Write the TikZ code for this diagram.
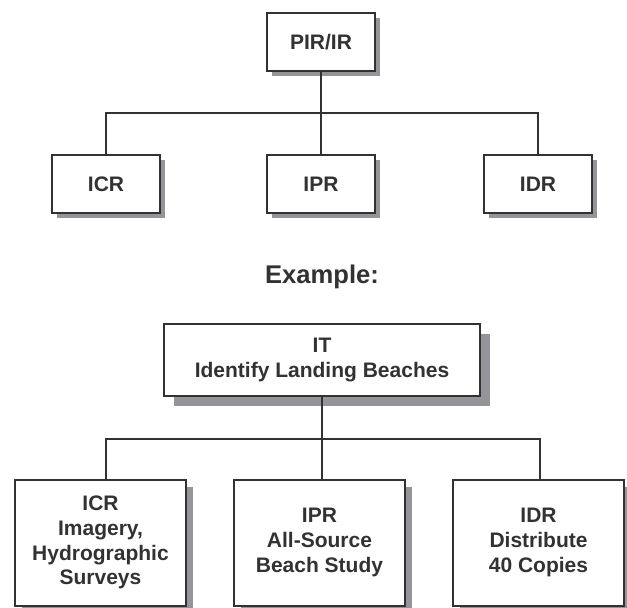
\documentclass[tikz,border=0pt]{standalone}
\usepackage{fontspec}
\setmainfont{Liberation Sans}
\usetikzlibrary{shadows}
\definecolor{inkgray}{HTML}{333132}
\definecolor{shadowgray}{HTML}{939598}
\begin{document}
\begin{tikzpicture}[x=1pt,y=-1pt,
  box/.style={draw=inkgray,line width=2pt,fill=white,inner sep=0,align=center,
    font=\fontsize{21}{24.8}\selectfont\bfseries,text=inkgray,
    drop shadow={shadow xshift=#1,shadow yshift=-#1,fill=shadowgray,opacity=1}},
  box/.default=5pt,
  link/.style={draw=inkgray,line width=2pt}]
\useasboundingbox (0,0) rectangle (627,608);
\node[box,minimum width=108,minimum height=58] (pir) at (321,42) {PIR/IR};
\node[box,minimum width=108,minimum height=58] (icr) at (106,184) {ICR};
\node[box,minimum width=108,minimum height=58] (ipr) at (321,184) {IPR};
\node[box,minimum width=108,minimum height=58] (idr) at (538,184) {IDR};
\draw[link] (pir.south) -- ++(0,41) coordinate (bartop);
\draw[link] (icr.north) |- (bartop) -| (idr.north);
\draw[link] (bartop) -- (ipr.north);
\node[font=\fontsize{25.6}{30}\selectfont\bfseries,text=inkgray,inner sep=0] (example) at (322,277) {Example:};
\node[box=10pt,minimum width=316,minimum height=72] (it) at (322,360) {IT\\Identify Landing Beaches};
\node[box=7pt,minimum width=171,minimum height=126] (icrb) at (100.5,542.5) {ICR\\Imagery,\\Hydrographic\\Surveys};
\node[box=7pt,minimum width=171,minimum height=126] (iprb) at (319.5,542.5) {IPR\\All-Source\\Beach Study};
\node[box=7pt,minimum width=171,minimum height=126] (idrb) at (538.5,542.5) {IDR\\Distribute\\40 Copies};
\draw[link] (it.south) -- ++(0,42) coordinate (barlow);
\draw[link] ([xshift=5.5pt]icrb.north) |- (barlow) -| ([xshift=1.5pt]idrb.north);
\draw[link] (barlow) -- (barlow |- iprb.north);
\end{tikzpicture}
\end{document}
